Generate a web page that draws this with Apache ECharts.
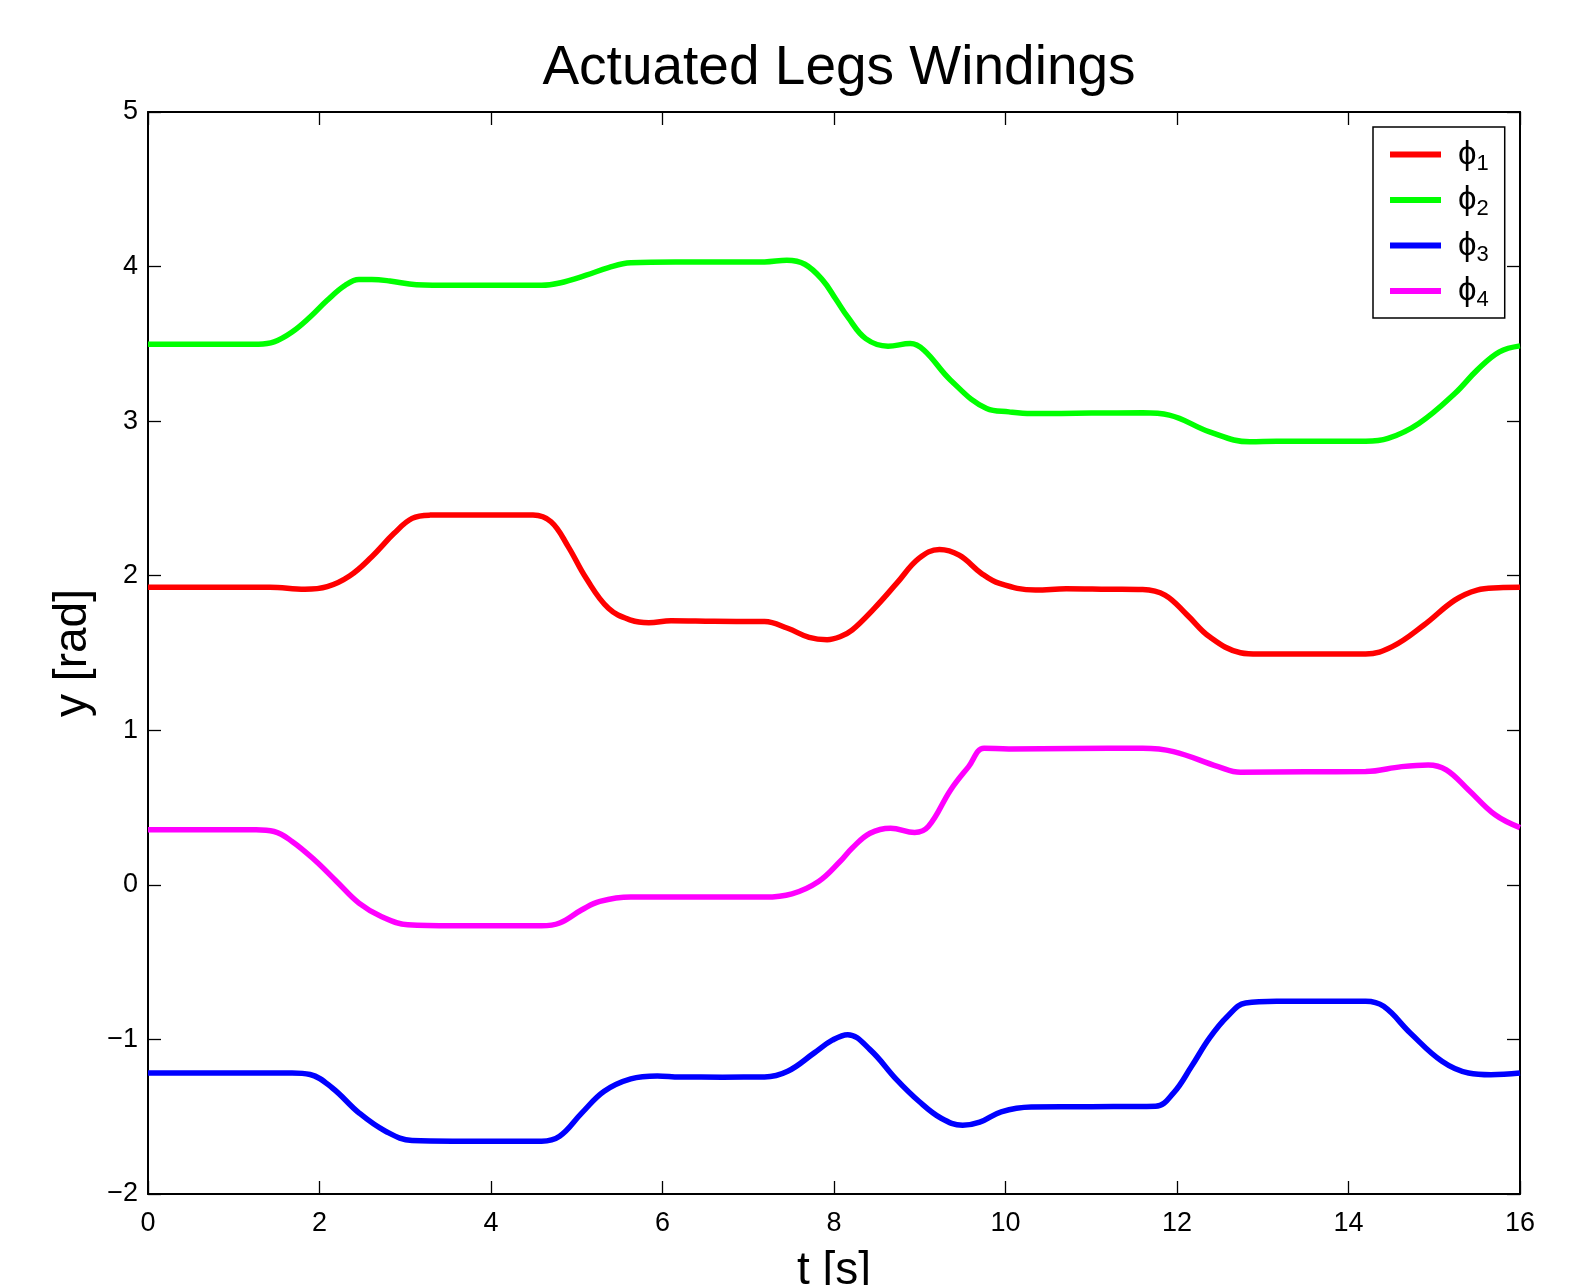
<!DOCTYPE html>
<html>
<head>
<meta charset="utf-8">
<script src="https://cdn.jsdelivr.net/npm/echarts@6/dist/echarts.min.js"></script>
<style>
  html, body { margin: 0; padding: 0; background: #fff; }
  #windings { width: 1590px; height: 1285px; }
</style>
</head>
<body>
<div id="windings"></div>
<script>
// time axis ticks and value axis ticks
var tTicks = [0, 2, 4, 6, 8, 10, 12, 14, 16];
var yTicks = [-2, -1, 0, 1, 2, 3, 4, 5];
var legNames = ['ϕ1', 'ϕ2', 'ϕ3', 'ϕ4'];
var legColors = ['#ff0000', '#00ff00', '#0000ff', '#ff00ff'];

// [t, rad]
var phi1 = [[0,1.925],[0.5,1.925],[1.0,1.925],[1.42,1.925],[1.83,1.912],[2.09,1.929],[2.35,1.998],[2.61,2.123],[2.87,2.274],[3.08,2.371],[3.29,2.392],[3.6,2.393],[4.0,2.393],[4.49,2.392],[4.70,2.349],[4.90,2.188],[5.11,1.983],[5.37,1.789],[5.63,1.713],[5.84,1.696],[6.10,1.709],[6.6,1.705],[7.19,1.703],[7.46,1.660],[7.71,1.601],[7.92,1.586],[8.07,1.605],[8.21,1.648],[8.47,1.789],[8.73,1.950],[8.99,2.112],[9.23,2.170],[9.46,2.133],[9.72,2.015],[9.93,1.950],[10.35,1.907],[10.71,1.916],[11.2,1.913],[11.60,1.911],[11.86,1.875],[12.12,1.745],[12.38,1.605],[12.74,1.502],[12.95,1.493],[13.5,1.493],[14.2,1.493],[14.51,1.541],[14.88,1.681],[15.24,1.842],[15.5,1.907],[15.75,1.922],[16,1.925]];
var phi2 = [[0,3.498],[0.6,3.498],[1.29,3.498],[1.47,3.513],[1.68,3.577],[1.89,3.674],[2.09,3.782],[2.30,3.879],[2.46,3.916],[2.61,3.916],[2.82,3.907],[3.13,3.883],[3.55,3.879],[4.1,3.879],[4.59,3.879],[4.80,3.894],[5.11,3.944],[5.37,3.993],[5.63,4.024],[6.15,4.030],[6.7,4.030],[7.19,4.030],[7.45,4.041],[7.66,4.015],[7.87,3.911],[8.02,3.79],[8.16,3.674],[8.37,3.534],[8.63,3.485],[8.89,3.502],[9.05,3.459],[9.36,3.265],[9.78,3.082],[10.04,3.060],[10.30,3.049],[11.0,3.052],[11.60,3.054],[11.91,3.039],[12.38,2.931],[12.85,2.866],[13.16,2.870],[13.7,2.870],[14.2,2.870],[14.46,2.888],[14.82,2.985],[15.24,3.179],[15.5,3.330],[15.76,3.448],[16,3.487]];
var phi3 = [[0,-1.217],[0.8,-1.217],[1.68,-1.217],[1.89,-1.227],[2.15,-1.314],[2.46,-1.475],[2.77,-1.594],[3.08,-1.654],[3.55,-1.658],[4.1,-1.658],[4.59,-1.658],[4.80,-1.626],[5.06,-1.475],[5.32,-1.335],[5.63,-1.255],[5.94,-1.236],[6.2,-1.243],[6.7,-1.244],[7.19,-1.243],[7.46,-1.206],[7.77,-1.087],[7.98,-1.005],[8.16,-0.969],[8.42,-1.066],[8.73,-1.260],[8.99,-1.400],[9.25,-1.51],[9.5,-1.555],[9.7,-1.535],[9.95,-1.468],[10.3,-1.437],[11.0,-1.435],[11.75,-1.432],[11.96,-1.346],[12.17,-1.174],[12.38,-0.990],[12.59,-0.850],[12.80,-0.764],[13.16,-0.753],[13.7,-0.753],[14.2,-0.753],[14.41,-0.786],[14.72,-0.958],[15.09,-1.141],[15.4,-1.217],[15.66,-1.228],[16,-1.217]];
var phi4 = [[0,0.356],[0.6,0.356],[1.26,0.356],[1.47,0.345],[1.68,0.281],[1.94,0.162],[2.20,0.022],[2.46,-0.118],[2.72,-0.204],[3.03,-0.258],[3.55,-0.265],[4.1,-0.265],[4.59,-0.265],[4.80,-0.247],[5.06,-0.161],[5.27,-0.107],[5.63,-0.079],[6.4,-0.079],[7.19,-0.079],[7.51,-0.058],[7.82,0.022],[8.07,0.151],[8.21,0.237],[8.42,0.334],[8.66,0.367],[8.94,0.339],[9.10,0.377],[9.36,0.614],[9.57,0.765],[9.75,0.884],[10.04,0.879],[10.8,0.882],[11.60,0.884],[11.96,0.862],[12.48,0.765],[12.74,0.729],[13.5,0.731],[14.2,0.733],[14.62,0.765],[14.93,0.776],[15.14,0.744],[15.4,0.614],[15.71,0.453],[16,0.370]];
var allPhi = [phi1, phi2, phi3, phi4];

var FONT = '"Liberation Sans", Arial, Helvetica, sans-serif';

function minus(v) {
  return v < 0 ? '\u2212' + Math.abs(v) : String(v);
}

function boxAxis(extra) {
  var a = {
    type: 'value',
    axisLine: { show: true, onZero: false, lineStyle: { color: '#000', width: 2 } },
    axisTick: { show: true, inside: true, length: 13, lineStyle: { color: '#000', width: 1.3 } },
    splitLine: { show: false },
    axisLabel: { show: false }
  };
  for (var k in extra) a[k] = extra[k];
  return a;
}

var chart = echarts.init(document.getElementById('windings'));

var seriesList = [];
for (var i = 0; i < allPhi.length; i++) {
  seriesList.push({
    name: legNames[i],
    type: 'line',
    data: allPhi[i],
    showSymbol: false,
    symbol: 'none',
    smooth: 0.4,
    lineStyle: { color: legColors[i], width: 5.5 },
    itemStyle: { color: legColors[i] }
  });
}

var option = {
  backgroundColor: '#fff',
  animation: false,
  title: {
    text: 'Actuated Legs Windings',
    left: 834,
    top: 36,
    textAlign: 'center',
    textStyle: { fontFamily: FONT, fontSize: 55, fontWeight: 'normal', color: '#000' }
  },
  legend: {
    data: legNames,
    orient: 'vertical',
    left: 1373,
    top: 127,
    padding: [11, 16, 7, 17],
    itemGap: 9,
    itemWidth: 51,
    itemHeight: 6,
    icon: 'rect',
    backgroundColor: '#fff',
    borderColor: '#000',
    borderWidth: 1.5,
    borderRadius: 0,
    formatter: function (name) {
      return '{p|ϕ}{s|' + name.slice(1) + '}';
    },
    textStyle: {
      padding: [0, 0, 0, 12],
      rich: {
        p: { fontFamily: FONT, fontSize: 33, lineHeight: 40, verticalAlign: 'middle', color: '#000' },
        s: { fontFamily: FONT, fontSize: 22, lineHeight: 22, verticalAlign: 'bottom', color: '#000' }
      }
    }
  },
  grid: {
    left: 148,
    right: 70,
    top: 112,
    bottom: 91,
    containLabel: false,
    outerBoundsMode: 'none'
  },
  xAxis: [
    boxAxis({
      position: 'bottom',
      min: tTicks[0],
      max: tTicks[tTicks.length - 1],
      interval: 2,
      name: 't [s]',
      nameLocation: 'middle',
      nameGap: 54,
      nameTextStyle: { fontFamily: FONT, fontSize: 46, color: '#000' },
      axisLabel: { show: true, margin: 16, fontFamily: FONT, fontSize: 27, color: '#000', formatter: minus }
    }),
    boxAxis({ position: 'top', min: tTicks[0], max: tTicks[tTicks.length - 1], interval: 2 })
  ],
  yAxis: [
    boxAxis({
      position: 'left',
      min: yTicks[0],
      max: yTicks[yTicks.length - 1],
      interval: 1,
      name: 'y [rad]',
      nameLocation: 'middle',
      nameGap: 42,
      nameTextStyle: { fontFamily: FONT, fontSize: 46, color: '#000' },
      axisLabel: { show: true, margin: 10, fontFamily: FONT, fontSize: 27, color: '#000', formatter: minus }
    }),
    boxAxis({ position: 'right', min: yTicks[0], max: yTicks[yTicks.length - 1], interval: 1 })
  ],
  series: seriesList
};

chart.setOption(option);
</script>
</body>
</html>
